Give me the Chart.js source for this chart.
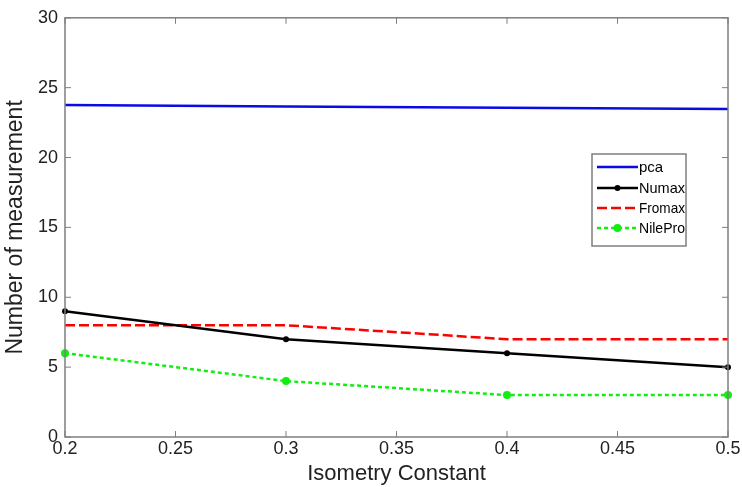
<!DOCTYPE html>
<html>
<head>
<meta charset="utf-8">
<script src="https://cdn.jsdelivr.net/npm/chart.js@4.4.1/dist/chart.umd.min.js"></script>
<style>
  html, body { margin: 0; padding: 0; background: #fff; }
  #wrap { width: 742px; height: 487px; }
</style>
</head>
<body>
<div id="wrap"><canvas id="chartIso"></canvas></div>
<script>
// valores
const constantes = [0.2, 0.3, 0.4, 0.5];
const pca     = [23.76, 23.66, 23.57, 23.47];
const numax   = [9, 7, 6, 5];
const fromax  = [8, 8, 7, 7];
const nilePro = [6, 4, 3, 3];
const xTicks = [0.2, 0.25, 0.3, 0.35, 0.4, 0.45, 0.5];
const yTicks = [0, 5, 10, 15, 20, 25, 30];

const pts = (arr) => arr.map((v, i) => ({ x: constantes[i], y: v }));
const FONT = "'Liberation Sans', Arial, sans-serif";
const EJE = "#7f7f7f";

/* caja del eje + marcas hacia adentro, estilo MATLAB */
const cajaPlugin = {
  id: "caja",
  afterDatasetsDraw(chart) {
    const { ctx, chartArea: a, scales } = chart;
    ctx.save();
    ctx.strokeStyle = EJE;
    ctx.lineWidth = 1.5;
    ctx.strokeRect(a.left, a.top, a.right - a.left, a.bottom - a.top);
    ctx.lineWidth = 1;
    const L = 6;
    scales.x.ticks.forEach((t) => {
      const px = scales.x.getPixelForValue(t.value);
      ctx.beginPath();
      ctx.moveTo(px, a.bottom); ctx.lineTo(px, a.bottom - L);
      ctx.moveTo(px, a.top); ctx.lineTo(px, a.top + L);
      ctx.stroke();
    });
    scales.y.ticks.forEach((t) => {
      const py = scales.y.getPixelForValue(t.value);
      ctx.beginPath();
      ctx.moveTo(a.left, py); ctx.lineTo(a.left + L, py);
      ctx.moveTo(a.right, py); ctx.lineTo(a.right - L, py);
      ctx.stroke();
    });
    ctx.restore();
  },
};

/* leyenda dentro del área de la gráfica */
const leyendaPlugin = {
  id: "leyendaDentro",
  afterDraw(chart) {
    const { ctx } = chart;
    const x0 = 592, y0 = 154, w = 94, h = 92;
    ctx.save();
    ctx.fillStyle = "#fff";
    ctx.fillRect(x0, y0, w, h);
    ctx.strokeStyle = EJE;
    ctx.lineWidth = 1.5;
    ctx.strokeRect(x0, y0, w, h);
    ctx.font = `15px ${FONT}`;
    ctx.textBaseline = "middle";
    const filas = [167, 188, 208, 228];
    chart.data.datasets.forEach((ds, i) => {
      const y = filas[i];
      ctx.strokeStyle = ds.borderColor;
      ctx.lineWidth = ds.borderWidth;
      ctx.setLineDash(ds.borderDash || []);
      ctx.beginPath();
      ctx.moveTo(597, y); ctx.lineTo(638, y);
      ctx.stroke();
      ctx.setLineDash([]);
      if (ds.pointRadius > 0) {
        ctx.fillStyle = ds.pointBackgroundColor;
        ctx.beginPath();
        ctx.arc(617.5, y, ds.pointRadius, 0, Math.PI * 2);
        ctx.fill();
      }
      ctx.fillStyle = "#000";
      ctx.fillText(ds.label, 639, y + 1, 46);
    });
    ctx.restore();
  },
};

new Chart(document.getElementById("chartIso"), {
  type: "line",
  data: {
    datasets: [
      { label: "pca", data: pts(pca), borderColor: "#0a0ae6", borderWidth: 2.5, pointRadius: 0 },
      { label: "Numax", data: pts(numax), borderColor: "#000", borderWidth: 2.5, clip: false,
        pointRadius: 3, pointBackgroundColor: "#000", pointBorderWidth: 0 },
      { label: "Fromax", data: pts(fromax), borderColor: "#ff0000", borderWidth: 2.5,
        borderDash: [10, 4], pointRadius: 0 },
      { label: "NilePro", data: pts(nilePro), borderColor: "#11ee11", borderWidth: 2.5, clip: false,
        borderDash: [4, 3], pointRadius: 4, pointBackgroundColor: "#11ee11", pointBorderWidth: 0 },
    ],
  },
  options: {
    responsive: true,
    maintainAspectRatio: false,
    animation: false,
    layout: { padding: { top: 14, right: 14, left: 0, bottom: 0 } },
    plugins: { legend: { display: false }, tooltip: { enabled: false } },
    scales: {
      x: {
        type: "linear",
        min: 0.2, max: 0.5,
        afterBuildTicks: (s) => { s.ticks = xTicks.map((v) => ({ value: v })); },
        ticks: {
          callback: (v) => String(parseFloat(v.toFixed(2))),
          font: { family: FONT, size: 18 }, color: "#222", padding: 1,
          maxRotation: 0,
        },
        grid: { display: false, drawTicks: false },
        border: { display: false },
        title: { display: true, text: "Isometry Constant", font: { family: FONT, size: 22 },
                 color: "#222", padding: { top: 0, bottom: 0 } },
      },
      y: {
        min: 0, max: 30,
        afterBuildTicks: (s) => { s.ticks = yTicks.map((v) => ({ value: v })); },
        afterFit: (s) => { s.width = 65; },
        ticks: { font: { family: FONT, size: 18 }, color: "#222", padding: 7 },
        grid: { display: false, drawTicks: false },
        border: { display: false },
        title: { display: true, text: "Number of measurement", font: { family: FONT, size: 23 },
                 color: "#222", padding: { top: 2, bottom: 4 } },
      },
    },
  },
  plugins: [cajaPlugin, leyendaPlugin],
});
</script>
</body>
</html>
